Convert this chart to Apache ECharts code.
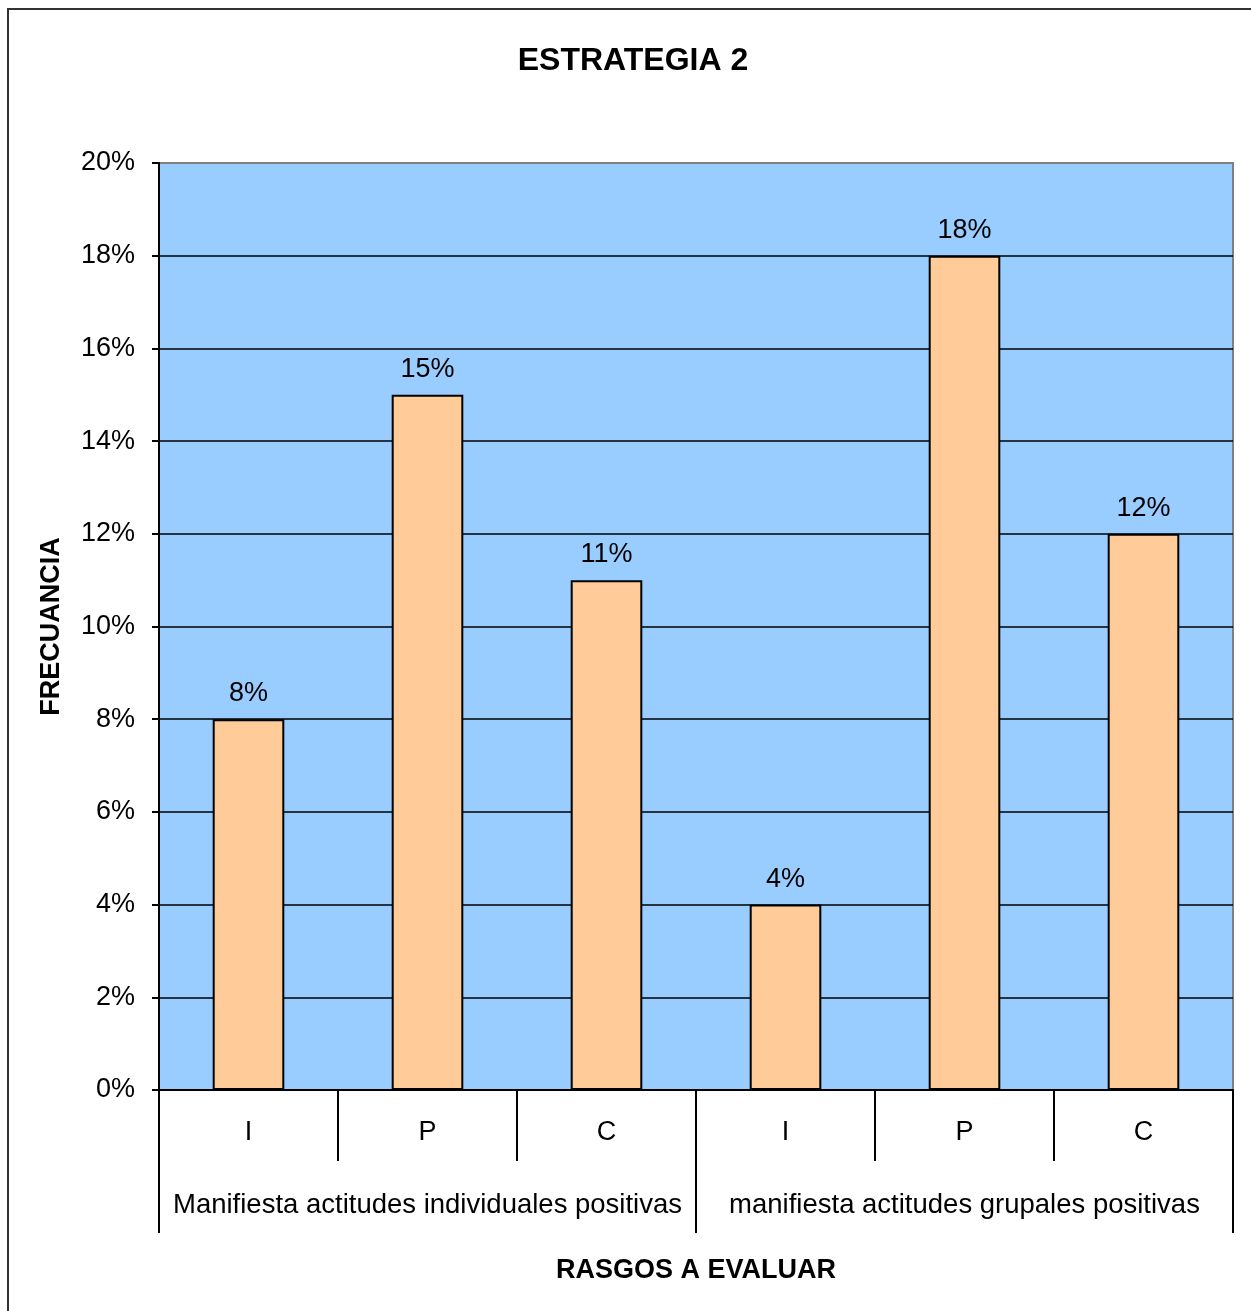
<!DOCTYPE html>
<html>
<head>
<meta charset="utf-8">
<script src="https://cdn.jsdelivr.net/npm/echarts@6/dist/echarts.min.js"></script>
<style>
html,body{margin:0;padding:0;background:#fff;}
#main{width:1251px;height:1311px;}
</style>
</head>
<body>
<div id="main"></div>
<script>
var titleText = 'ESTRATEGIA 2';
var subCategories = ['I', 'P', 'C', 'I', 'P', 'C'];
var groupCategories = ['Manifiesta actitudes individuales positivas', 'manifiesta actitudes grupales positivas'];
var values = [8, 15, 11, 4, 18, 12];
var yTicks = [0, 20, 2];
var xName = 'RASGOS A EVALUAR';
var yName = 'FRECUANCIA';

var FONT = "'Liberation Sans', Arial, sans-serif";
var chart = echarts.init(document.getElementById('main'), null, {renderer: 'canvas'});
chart.setOption({
  backgroundColor: '#ffffff',
  animation: false,
  title: {
    text: titleText, left: 628, top: 40, textAlign: 'center',
    textStyle: {fontFamily: FONT, fontSize: 32, fontWeight: 'bold', color: '#000'}
  },
  graphic: [{
    type: 'rect', silent: true, z: 0,
    shape: {x: 8, y: 9, width: 1300, height: 1400},
    style: {fill: 'none', stroke: '#333', lineWidth: 2}
  }],
  grid: {
    left: 159, right: 18, top: 163, bottom: 221,
    show: true, backgroundColor: '#99CCFF', borderColor: '#808080', borderWidth: 2
  },
  xAxis: [{
    type: 'category', data: subCategories, position: 'bottom', offset: 0,
    axisLine: {lineStyle: {color: '#000', width: 2}},
    axisTick: {show: true, length: 71, interval: 0, lineStyle: {color: '#000', width: 2}},
    axisLabel: {interval: 0, margin: 29, fontFamily: FONT, fontSize: 27, color: '#000'},
    name: xName, nameLocation: 'middle', nameGap: 167,
    nameTextStyle: {fontFamily: FONT, fontSize: 27, fontWeight: 'bold', color: '#000'}
  }, {
    type: 'category', data: groupCategories, position: 'bottom', offset: 0,
    axisLine: {show: false},
    axisTick: {show: true, length: 143, interval: 0, lineStyle: {color: '#000', width: 2}},
    axisLabel: {interval: 0, margin: 101, fontFamily: FONT, fontSize: 27.5, color: '#000'}
  }],
  yAxis: {
    type: 'value', min: yTicks[0], max: yTicks[1], interval: yTicks[2],
    axisLine: {show: true, lineStyle: {color: '#000', width: 2}},
    axisTick: {show: true, length: 7, lineStyle: {color: '#000', width: 2}},
    axisLabel: {formatter: '{value}%', margin: 24, fontFamily: FONT, fontSize: 27, color: '#000'},
    splitLine: {show: true, showMinLine: false, showMaxLine: false, lineStyle: {color: '#000', width: 1.5}},
    name: yName, nameLocation: 'middle', nameGap: 94, nameRotate: 90,
    nameTextStyle: {fontFamily: FONT, fontSize: 27, fontWeight: 'bold', color: '#000'}
  },
  series: [{
    type: 'bar', data: values, xAxisIndex: 0, barWidth: '40%',
    itemStyle: {color: '#FFCC99', borderColor: '#000', borderWidth: 2},
    label: {show: true, position: 'top', distance: 12, formatter: '{c}%',
      fontFamily: FONT, fontSize: 27, color: '#000'}
  }]
});
</script>
</body>
</html>
